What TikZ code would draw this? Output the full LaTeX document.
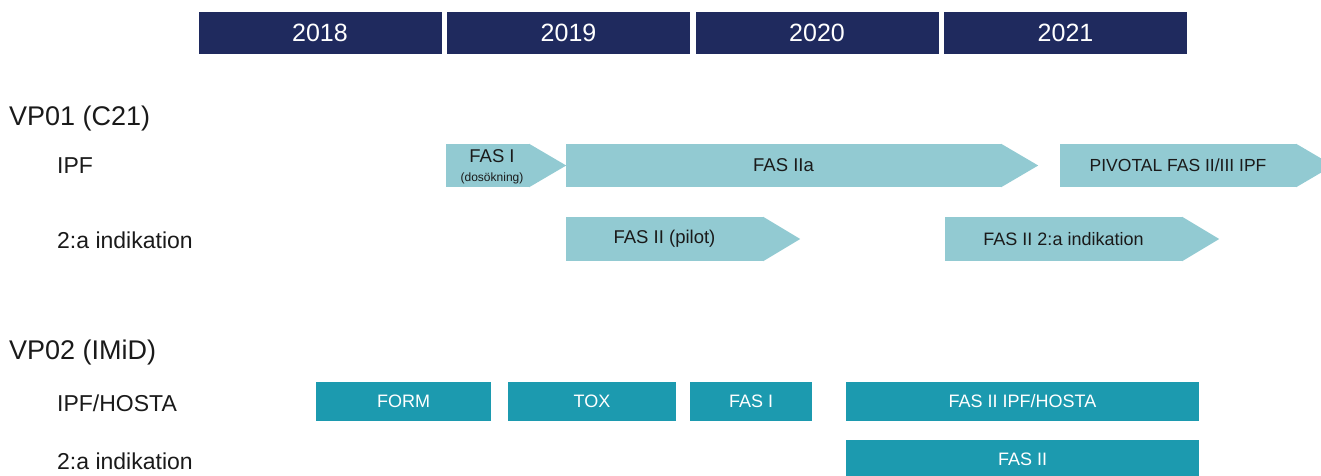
\documentclass[tikz,border=0pt]{standalone}
\usepackage{fontspec}
\setmainfont{Liberation Sans}
\usepackage{xcolor}
\usetikzlibrary{calc}

\definecolor{navy}{HTML}{1F2A5E}
\definecolor{lightteal}{HTML}{92CAD2}
\definecolor{darkteal}{HTML}{1C9AAF}
\definecolor{ink}{HTML}{1A1A1A}

\tikzset{
    year/.style={fill=navy, text=white, inner sep=0pt, minimum width=243pt, minimum height=42pt,
        font=\fontsize{25}{30}\selectfont},
    phase/.style={fill=lightteal, text=ink, inner sep=0pt, minimum height=43pt,
        font=\fontsize{18.5}{22}\selectfont},
    block/.style={fill=darkteal, text=white, inner sep=0pt, minimum height=39pt,
        font=\fontsize{18}{22}\selectfont},
    project/.style={anchor=west, inner sep=0pt, text=ink, font=\fontsize{27}{32}\selectfont},
    indication/.style={anchor=west, inner sep=0pt, text=ink, font=\fontsize{23}{27}\selectfont}
}

\newcommand{\tip}[1]{\fill[lightteal] (#1.north east) -- ($(#1.east)+(37,0)$) -- (#1.south east) -- cycle;}

\begin{document}
\begin{tikzpicture}[x=1pt, y=-1pt]
    \useasboundingbox (0,0) rectangle (1321,475);

    % years
    \node[year] (y2018) at (320, 33) {2018};
    \node[year] (y2019) at (568.5, 33) {2019};
    \node[year] (y2020) at (817, 33) {2020};
    \node[year] (y2021) at (1065.5, 33) {2021};

    % VP01
    \node[project] (vp01) at (9, 119) {VP01 (C21)};
    \node[indication] (ipf) at (57, 166) {IPF};
    \node[indication] (ind1) at (57, 240) {2:a indikation};

    \node[phase, minimum width=83pt] (fas1) at (487.5, 165.5) {};
    \node[phase, fill=none, align=center] (fas1txt) at (492, 166.5)
        {FAS I\\[-3pt]{\fontsize{12}{14}\selectfont (dosökning)}};
    \node[phase, minimum width=435pt] (fas2a) at (783.5, 165.5) {FAS IIa};
    \node[phase, minimum width=236pt, font=\fontsize{17.5}{20}\selectfont] (pivotal) at (1178, 165.5)
        {PIVOTAL FAS II/III IPF};
    \node[phase, minimum width=197pt, minimum height=44pt] (pilot) at (664.5, 239) {FAS II (pilot)\vphantom{A}};
    \node[phase, minimum width=237pt, minimum height=44pt, font=\fontsize{18}{21}\selectfont] (fas2ind) at (1063.5, 239)
        {FAS II 2:a indikation};
    \tip{fas1}
    \tip{fas2a}
    \tip{pivotal}
    \tip{pilot}
    \tip{fas2ind}

    % VP02
    \node[project] (vp02) at (9, 353) {VP02 (IMiD)};
    \node[indication] (hosta) at (57, 403) {IPF/HOSTA};
    \node[indication] (ind2) at (57, 461) {2:a indikation};

    \node[block, minimum width=175pt] (form) at (403.5, 401.5) {FORM};
    \node[block, minimum width=168pt] (tox) at (592, 401.5) {TOX};
    \node[block, minimum width=122pt] (bfas1) at (751, 401.5) {FAS I};
    \node[block, minimum width=353pt] (bfas2) at (1022.5, 401.5) {FAS II IPF/HOSTA};
    \node[block, minimum width=353pt] (bfas2ind) at (1022.5, 459.5) {FAS II};
\end{tikzpicture}
\end{document}
